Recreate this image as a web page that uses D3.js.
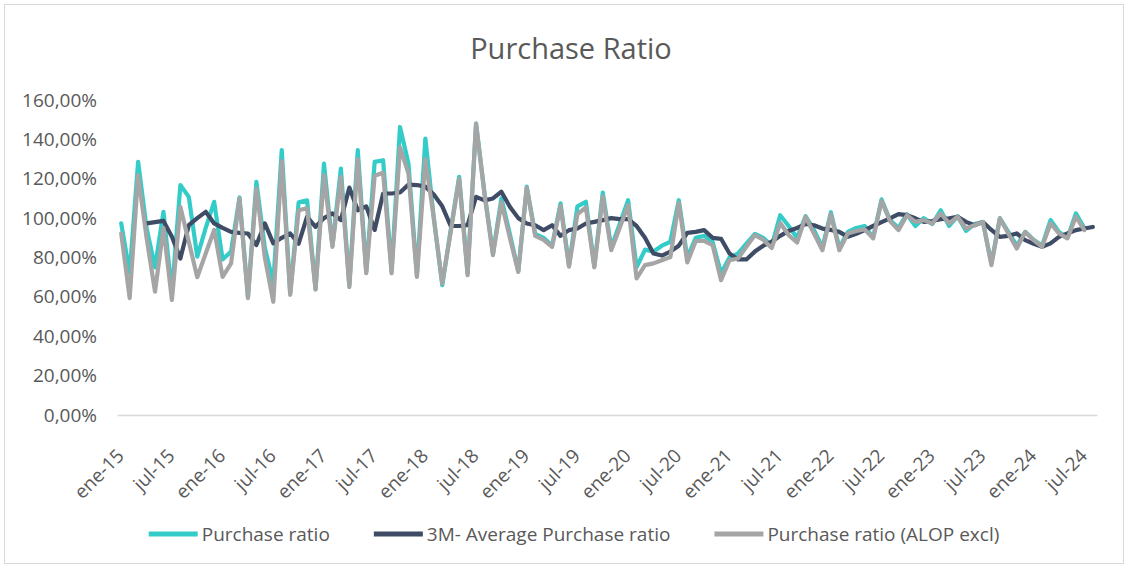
<!DOCTYPE html>
<html>
<head>
<meta charset="utf-8">
<script src="https://cdn.jsdelivr.net/npm/d3@7"></script>
<style>
  body { margin: 0; background: #fff; }
  text { font-family: "Open Sans", sans-serif; fill: #595959; }
</style>
</head>
<body>
<svg id="chart" width="1129" height="569"></svg>
<script>
// monthly categories ene-15 .. ago-24
var months = d3.timeMonth.range(new Date(2015, 0, 1), new Date(2024, 8, 1))

var tickLabels = ["ene-15","jul-15","ene-16","jul-16","ene-17","jul-17","ene-18","jul-18","ene-19","jul-19",
                  "ene-20","jul-20","ene-21","jul-21","ene-22","jul-22","ene-23","jul-23","ene-24","jul-24"]

var yTicks = [0, 20, 40, 60, 80, 100, 120, 140, 160]

// Purchase ratio (%)
var purchaseRatio = [
  97.3, 72, 128.6, 95, 75, 103.2, 62, 116.8, 110.8, 80.4,
  95, 108.3, 79, 83, 110.5, 60, 118.4, 85, 67, 134.5,
  62, 108, 109, 64, 127.7, 86, 125.2, 66, 134.5, 73,
  128.6, 129.4, 73, 146.3, 127.7, 71, 140.4, 100, 66, 94,
  121, 72, 148, 113, 82, 110, 92, 73, 116, 92,
  90, 86, 107.5, 76, 106, 108.3, 75.5, 113, 85, 97,
  109.1, 75, 84, 83, 86, 88, 109.1, 80, 90, 91,
  88, 72, 80, 82, 87, 92, 90, 86, 101.5, 96,
  90, 101, 94, 85, 103, 85, 93, 95, 96, 90,
  109.5, 99, 95, 102, 96, 100, 97, 104, 96, 101,
  93.5, 97, 98, 77, 100, 93, 86, 93, 89, 86,
  99, 93, 90, 102.4, 95
]

// 3M- Average Purchase ratio (%)
var avg3m = [
  null, null, null, 97.3, 98, 98.6, 90.5, 79.5, 96.4, 100,
  103.2, 97.3, 95, 93, 92.5, 92.2, 86.3, 97.3, 87.2, 90,
  92.2, 87, 100.7, 95.6, 100, 102.4, 99, 115.5, 104, 106,
  94, 112.5, 112.5, 113, 117, 116.8, 116, 112, 106, 96,
  96, 96.4, 110.8, 109, 110, 113.4, 105.8, 100, 97.3, 96.4,
  93.9, 96.4, 91, 93.9, 94.7, 97.3, 98.1, 99, 100, 99.5,
  99.5, 96, 90, 82, 81, 83, 86, 92.5, 93, 93.9,
  90, 89.5, 82, 79, 79, 83, 86, 88, 91, 93.5,
  95, 97, 96.4, 94.7, 94, 93, 90.5, 92, 93.9, 96,
  98, 99.9, 102, 101.5, 99.9, 98.1, 98.5, 99.5, 99.9, 100.7,
  98.1, 96.4, 98, 94, 90.5, 91, 92.2, 88.8, 87, 85.4,
  87.2, 90.5, 92.2, 93.9, 94.7, 95.5
]

// Purchase ratio (ALOP excl) (%)
var ratioAlopExcl = [
  92.2, 59.4, 121.8, 90, 62.6, 95, 58.4, 105.7, 88, 70,
  82, 94, 70.2, 77, 110, 59.4, 115, 80, 57.5, 129,
  61, 104, 105, 63.7, 121.8, 85.4, 121, 65, 130, 72,
  121.5, 123, 72, 136, 122.6, 70.2, 130, 100, 66.8, 93,
  120, 71, 148, 112, 81.2, 108, 90, 72.7, 115.5, 91,
  89, 85.4, 106.2, 75.3, 102, 105.4, 75, 111, 83.7, 95,
  106.6, 69.4, 76.1, 77, 78.6, 80.2, 107.8, 77.5, 88.3, 88.5,
  86.3, 68.5, 78.6, 79.5, 85.4, 91.4, 89, 84.8, 97.5, 91.4,
  87.6, 100.7, 92.2, 83.7, 102, 83.7, 92.2, 93.5, 94.3, 89.7,
  108.7, 98.5, 93.9, 101.5, 98.1, 99, 97.3, 102.4, 97.3, 100.7,
  94.7, 96.4, 98.1, 76.1, 99.9, 92.2, 84.6, 93, 88.8, 85.4,
  97.3, 92.2, 89.7, 100.7, 93.9
]

var series = [
  { name: "Purchase ratio", values: purchaseRatio, color: "#33CCC9" },
  { name: "3M- Average Purchase ratio", values: avg3m, color: "#3E4C66" },
  { name: "Purchase ratio (ALOP excl)", values: ratioAlopExcl, color: "#A5A5A5" }
]

var svg = d3.select("#chart")

// chart border
svg.append("rect")
  .attr("x", 4.5).attr("y", 4.5)
  .attr("width", 1119).attr("height", 559)
  .attr("fill", "none")
  .attr("stroke", "#d9d9d9")

var x = d3.scaleBand().domain(d3.range(months.length)).range([117, 1097])
var y = d3.scaleLinear().domain([0, 160]).range([415, 100])

function cx(i) { return x(i) + x.bandwidth() / 2 }

// title
svg.append("text")
  .attr("x", 571).attr("y", 59)
  .attr("text-anchor", "middle")
  .style("font-size", "29px")
  .text("Purchase Ratio")

// y axis labels
var yAxis = d3.axisLeft(y)
  .tickValues(yTicks)
  .tickSize(0)
  .tickPadding(0)
  .tickFormat(function (d) { return d3.format(".2f")(d).replace(".", ",") + "%" })

var gy = svg.append("g").attr("transform", "translate(97,0)").call(yAxis)
gy.select(".domain").remove()
gy.selectAll(".tick text").style("font-size", "19px").attr("fill", null)

// x axis
var xAxis = d3.axisBottom(x)
  .tickValues(d3.range(0, months.length, 6))
  .tickSize(0).tickSizeOuter(0)
  .tickFormat(function (i) { return tickLabels[i / 6] })

var gx = svg.append("g").attr("transform", "translate(0,415)").call(xAxis)
gx.select(".domain").attr("stroke", "#d9d9d9").attr("stroke-width", 1.5)
gx.selectAll(".tick text")
  .attr("y", null).attr("dy", null)
  .attr("text-anchor", "end")
  .attr("transform", "translate(4,42) rotate(-45)")
  .attr("fill", null)
  .style("font-size", "19px")

// lines
var line = d3.line()
  .defined(function (d) { return d != null })
  .x(function (d, i) { return cx(i) })
  .y(function (d) { return y(d) })

svg.append("g").selectAll("path").data(series).enter().append("path")
  .attr("fill", "none")
  .attr("stroke", function (d) { return d.color })
  .attr("stroke-width", 4.2)
  .attr("stroke-linejoin", "round")
  .attr("stroke-linecap", "round")
  .attr("d", function (d) { return line(d.values) })

// legend
var legend = svg.append("g").attr("transform", "translate(0,534)")
var items = legend.selectAll("g").data(series).enter().append("g")
items.append("line")
  .attr("x1", 0).attr("x2", 49)
  .attr("stroke", function (d) { return d.color })
  .attr("stroke-width", 5)
items.append("text")
  .attr("x", 53).attr("dy", "0.35em")
  .style("font-size", "19px")
  .text(function (d) { return d.name })

var widths = []
items.each(function () { widths.push(this.getBBox().width) })
var gap = 44
var total = d3.sum(widths) + gap * (widths.length - 1)
var pos = 574 - total / 2
items.attr("transform", function (d, i) {
  var p = pos
  pos += widths[i] + gap
  return "translate(" + p + ",0)"
})
</script>
</body>
</html>
